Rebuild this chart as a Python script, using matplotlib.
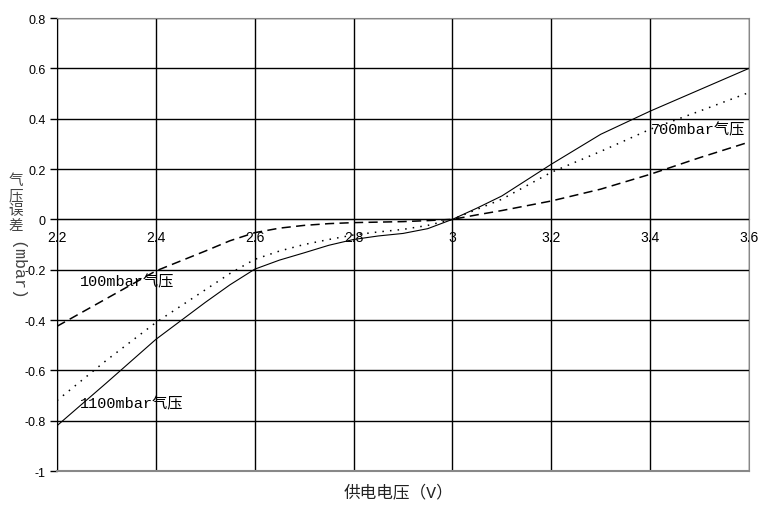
import numpy as np
import matplotlib
matplotlib.use("Agg")
import matplotlib.pyplot as plt

plt.rcParams['font.family'] = ['Liberation Sans', 'Noto Sans CJK SC', 'DejaVu Sans']

# supply voltage (V)
volt = [2.2, 2.3, 2.4, 2.5, 2.55, 2.6, 2.65, 2.7, 2.75, 2.8, 2.85, 2.9, 2.95, 3.0,
        3.05, 3.1, 3.2, 3.3, 3.4, 3.5, 3.6]
# pressure error (mbar)
err_1100 = [-0.82, -0.65, -0.477, -0.33, -0.26, -0.198, -0.162, -0.133, -0.103, -0.08,
            -0.066, -0.056, -0.037, 0.0, 0.045, 0.093, 0.219, 0.338, 0.43, 0.515, 0.60]
err_700 = [-0.72, -0.56, -0.41, -0.28, -0.215, -0.159, -0.126, -0.10, -0.08, -0.062,
           -0.05, -0.04, -0.024, 0.0, 0.04, 0.08, 0.187, 0.27, 0.358, 0.43, 0.504]
err_100 = [-0.425, -0.315, -0.205, -0.126, -0.085, -0.053, -0.035, -0.024, -0.017, -0.013,
           -0.011, -0.009, -0.005, 0.0, 0.018, 0.035, 0.073, 0.12, 0.179, 0.245, 0.307]

xticks = [2.2, 2.4, 2.6, 2.8, 3.0, 3.2, 3.4, 3.6]
xtick_labels = ['2.2', '2.4', '2.6', '2.8', '3', '3.2', '3.4', '3.6']
yticks = [-1, -0.8, -0.6, -0.4, -0.2, 0, 0.2, 0.4, 0.6, 0.8]
ytick_labels = ['-1', '-0.8', '-0.6', '-0.4', '-0.2', '0', '0.2', '0.4', '0.6', '0.8']
ylabel_chars = ['气', '压', '误', '差']

fig = plt.figure(figsize=(7.64, 5.10), dpi=100)
ax = fig.add_axes([0.0746, 0.0745, 0.9058, 0.8882])

ax.plot(volt, err_1100, color='black', lw=0.8, ls='-')
ax.plot(volt, err_700, color='black', lw=1.1, ls=(0, (1, 4)))
ax.plot(volt, err_100, color='black', lw=1.1, ls=(0, (6, 3.5)))

ax.set_xlim(2.2, 3.6)
ax.set_ylim(-1, 0.8)
ax.set_xticks(xticks)
ax.set_xticklabels(xtick_labels, fontsize=9)
ax.set_yticks(yticks)
ax.set_yticklabels(ytick_labels, fontsize=9)

ax.set_axisbelow(True)
ax.grid(True, color='black', lw=1.0)

# x axis sits on y = 0
ax.spines['bottom'].set_position(('data', 0))
ax.spines['bottom'].set_color('black')
ax.tick_params(axis='x', length=0, pad=8)
ax.tick_params(axis='y', length=5, direction='out', width=1, pad=3)
ax.spines['left'].set_color('black')
for s in ['top', 'right']:
    ax.spines[s].set_color('#888888')
    ax.spines[s].set_zorder(3)
ax.axhline(-1, color='#888888', lw=1.5, zorder=3, clip_on=False)

cjk = ['Liberation Mono', 'Noto Sans CJK SC']
ax.text(2.2465, -0.247, '100mbar气压', family=cjk, fontsize=11, va='center', ha='left')
ax.text(2.2465, -0.732, '1100mbar气压', family=cjk, fontsize=11, va='center', ha='left')
ax.text(3.401, 0.358, '700mbar气压', family=cjk, fontsize=11, va='center', ha='left')

fig.text(398 / 764, 1 - 492 / 510, '供电电压（V）', family=cjk, fontsize=12,
         ha='center', va='center', color='#222222')
# stacked vertical y label
for i, ch in enumerate(ylabel_chars):
    fig.text(16 / 764, 1 - (181 + 15 * i) / 510, ch, family=['Noto Sans CJK SC'],
             fontsize=10.5, ha='center', va='center', color='#444444')
fig.text(17 / 764, 1 - 271 / 510, '(mbar)', family=cjk, fontsize=12,
         ha='center', va='center', rotation=270, color='#444444')

fig.savefig('out.png', dpi=100)
